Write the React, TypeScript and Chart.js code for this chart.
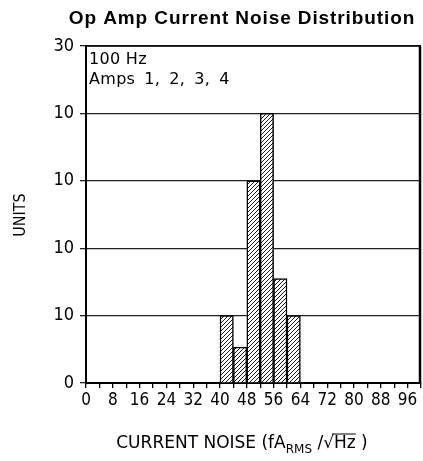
import React, { useEffect, useRef } from "react";
import { Chart, registerables } from "chart.js";

Chart.register(...registerables);

// ---- data ----
const binStarts = [40, 44, 48, 52, 56, 60];
const binWidth = 4;
const binCounts = [6, 3.2, 18, 24, 9.3, 6];
const yTickLabels = ["0", "10", "10", "10", "10", "30"];
const yStep = 6;
const xMin = 0;
const xMax = 100;
const xTickStep = 4;
const xLabelEvery = 8;
const titleText = "Op Amp Current Noise Distribution";
const yAxisTitle = "UNITS";
const xTitleMain = "CURRENT NOISE (fA";
const xTitleSub = "RMS";
const xTitleTail = " /\u221AHz )";
const annotationLines = ["100 Hz", "Amps 1, 2, 3, 4"];

const FONT = "'DejaVu Sans Condensed', 'DejaVu Sans', sans-serif";
const FONT_WIDE = "'DejaVu Sans', sans-serif";

function makeHatch(): CanvasPattern | string {
  const c = document.createElement("canvas");
  const s = 4;
  c.width = s;
  c.height = s;
  const g = c.getContext("2d");
  if (!g) return "#fff";
  g.fillStyle = "#fff";
  g.fillRect(0, 0, s, s);
  g.strokeStyle = "#000";
  g.lineWidth = 0.9;
  g.beginPath();
  g.moveTo(-1, s + 1);
  g.lineTo(s + 1, -1);
  g.moveTo(-1, 1);
  g.lineTo(1, -1);
  g.moveTo(s - 1, s + 1);
  g.lineTo(s + 1, s - 1);
  g.stroke();
  const p = g.createPattern(c, "repeat");
  return p || "#fff";
}

const decorPlugin = {
  id: "decor",
  afterDraw(chart: any) {
    const ctx = chart.ctx as any;
    const a = chart.chartArea;
    ctx.save();
    // right border
    ctx.strokeStyle = "#000";
    ctx.lineWidth = 2.5;
    ctx.beginPath();
    ctx.moveTo(a.right - 1, a.top);
    ctx.lineTo(a.right - 1, a.bottom);
    ctx.stroke();
    // top border
    ctx.lineWidth = 1.5;
    ctx.beginPath();
    ctx.moveTo(a.left, a.top);
    ctx.lineTo(a.right, a.top);
    ctx.stroke();

    // title
    ctx.fillStyle = "#000";
    ctx.font = "bold 19px 'Liberation Sans', Arial, sans-serif";
    ctx.letterSpacing = "0.9px";
    ctx.textAlign = "center";
    ctx.textBaseline = "alphabetic";
    ctx.fillText(titleText, 242, 24);

    // annotation
    ctx.font = "16px " + FONT_WIDE;
    ctx.letterSpacing = "0.3px";
    ctx.textAlign = "left";
    annotationLines.forEach((t: string, i: number) => {
      ctx.wordSpacing = i === 0 ? "0px" : "3.7px";
      ctx.fillText(t, a.left + 3, a.top + 18 + i * 20);
    });
    ctx.letterSpacing = "0px";
    ctx.wordSpacing = "0px";

    // y title
    ctx.save();
    ctx.translate(25, 215);
    ctx.rotate(-Math.PI / 2);
    ctx.font = "16px " + FONT;
    ctx.textAlign = "center";
    ctx.fillText(yAxisTitle, 0, 0);
    ctx.restore();

    // x title with subscript
    const mainFont = "17px " + FONT_WIDE;
    const subFont = "12px " + FONT_WIDE;
    ctx.font = mainFont;
    const w1 = ctx.measureText(xTitleMain).width;
    const w3 = ctx.measureText(xTitleTail).width;
    ctx.font = subFont;
    const w2 = ctx.measureText(xTitleSub).width;
    const total = w1 + w2 + w3;
    let x = 242 - total / 2;
    const base = 448;
    ctx.textAlign = "left";
    ctx.font = mainFont;
    ctx.fillText(xTitleMain, x, base);
    x += w1;
    ctx.font = subFont;
    ctx.fillText(xTitleSub, x, base + 5);
    x += w2;
    ctx.font = mainFont;
    ctx.fillText(xTitleTail, x, base);
    // overline for the root
    const pre = ctx.measureText(" /\u221A").width;
    const hz = ctx.measureText("Hz").width;
    ctx.lineWidth = 1;
    ctx.beginPath();
    ctx.moveTo(x + pre - 2, base - 14);
    ctx.lineTo(x + pre + hz, base - 14);
    ctx.stroke();
    ctx.restore();
  },
};

export default function App() {
  const ref = useRef<HTMLCanvasElement | null>(null);
  useEffect(() => {
    if (!ref.current) return;
    const hatch = makeHatch();
    const chart = new Chart(ref.current, {
      type: "bar",
      data: {
        datasets: [
          {
            data: binStarts.map((s, i) => ({ x: s + binWidth / 2, y: binCounts[i] })),
            backgroundColor: hatch as any,
            borderColor: "#000",
            borderWidth: 1.5,
            borderSkipped: "start",
            barPercentage: 1,
            categoryPercentage: 1,
          },
        ],
      },
      options: {
        animation: false,
        responsive: true,
        maintainAspectRatio: false,
        layout: { padding: { top: 46, right: 2, left: 0, bottom: 0 } },
        plugins: {
          legend: { display: false },
          tooltip: { enabled: false },
          title: { display: false },
        },
        scales: {
          x: {
            type: "linear",
            min: xMin,
            max: xMax,
            offset: false,
            afterFit: (s: any) => {
              s.height = 78;
            },
            afterBuildTicks: (s: any) => {
              const t = [];
              for (let v = xMin; v <= xMax; v += xTickStep) t.push({ value: v });
              s.ticks = t;
            },
            ticks: {
              autoSkip: false,
              maxRotation: 0,
              padding: 2,
              color: "#000",
              font: { family: FONT, size: 17 },
              callback: (v: any) =>
                Number(v) % xLabelEvery === 0 && Number(v) < xMax ? String(v) : "",
            },
            grid: {
              offset: false,
              drawOnChartArea: false,
              drawTicks: true,
              tickLength: 5,
              color: "#000",
              lineWidth: 1.3,
            },
            border: { display: true, color: "#000", width: 2 },
          },
          y: {
            min: 0,
            max: yStep * (yTickLabels.length - 1),
            afterFit: (s: any) => {
              s.width = 86;
            },
            ticks: {
              stepSize: yStep,
              padding: 6,
              color: "#000",
              font: { family: FONT, size: 18 },
              callback: (v: any) => yTickLabels[Math.round(Number(v) / yStep)] ?? "",
            },
            grid: {
              drawOnChartArea: true,
              drawTicks: true,
              tickLength: 6,
              color: "#222",
              lineWidth: 1.3,
            },
            border: { display: true, color: "#000", width: 2 },
          },
        },
      },
      plugins: [decorPlugin],
    });
    return () => chart.destroy();
  }, []);
  return (
    <div style={{ position: "absolute", left: 0, top: 0, width: 423, height: 461, background: "#fff" }}>
      <canvas ref={ref} />
    </div>
  );
}
